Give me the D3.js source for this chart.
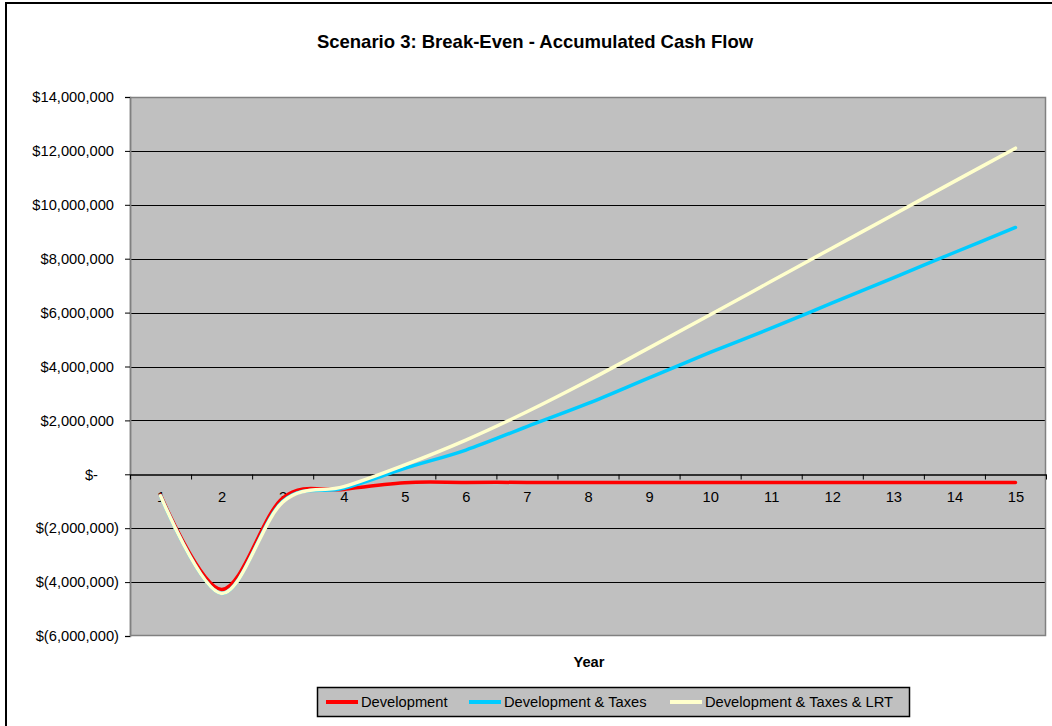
<!DOCTYPE html>
<html>
<head>
<meta charset="utf-8">
<script src="https://cdn.jsdelivr.net/npm/d3@7"></script>
<style>
  body { margin: 0; background: #fff; }
  text { font-family: "Liberation Sans", Arial, sans-serif; fill: #000; }
</style>
</head>
<body>
<script>
// Years on the category axis
const years = d3.range(1, 16);

// Accumulated cash flow, in dollars
const development = [-770000, -4270000, -880000, -560000, -310000, -300000, -300000, -300000,
  -300000, -300000, -300000, -300000, -300000, -300000, -300000];
const devTaxes = [-800000, -4420000, -1000000, -520000, 220000, 900000, 1770000, 2630000,
  3580000, 4520000, 5420000, 6360000, 7290000, 8230000, 9160000];
const devTaxesLrt = [-800000, -4420000, -1030000, -460000, 350000, 1270000, 2320000, 3470000,
  4690000, 5920000, 7160000, 8400000, 9630000, 10870000, 12100000];

const seriesNames = ["Development", "Development & Taxes", "Development & Taxes & LRT"];
const seriesColors = ["#FF0000", "#00CCFF", "#FFFFCC"];
const yTicks = d3.range(-6000000, 14000001, 2000000);

//Width and height
const w = 1052;
const h = 726;
const plot = { left: 130, right: 1046, top: 97, bottom: 636 };

const svg = d3.select("body").append("svg").attr("width", w).attr("height", h);

// chart frame
svg.append("rect")
  .attr("x", 6).attr("y", 3)
  .attr("width", 1100).attr("height", 800)
  .attr("fill", "#fff").attr("stroke", "#000").attr("stroke-width", 2);

const x = d3.scalePoint().domain(years).range([plot.left, plot.right]).padding(0.5);
const xEdge = d3.scaleLinear().domain([0.5, 15.5]).range([plot.left, plot.right]);
const y = d3.scaleLinear().domain([-6000000, 14000000]).range([plot.bottom, plot.top]);

// plot background
svg.append("rect")
  .attr("x", plot.left).attr("y", plot.top)
  .attr("width", plot.right - plot.left).attr("height", plot.bottom - plot.top)
  .attr("fill", "#C0C0C0");

// gridlines
svg.append("g")
  .selectAll("line")
  .data(yTicks.filter((d) => d !== 0 && d !== 14000000 && d !== -6000000))
  .enter()
  .append("line")
  .attr("x1", plot.left).attr("x2", plot.right)
  .attr("y1", (d) => Math.round(y(d)) + 0.5).attr("y2", (d) => Math.round(y(d)) + 0.5)
  .attr("stroke", "#000").attr("stroke-width", 1);

// plot border
svg.append("rect")
  .attr("x", plot.left + 0.5).attr("y", plot.top + 0.5)
  .attr("width", plot.right - plot.left - 1).attr("height", plot.bottom - plot.top - 1)
  .attr("fill", "none").attr("stroke", "#808080").attr("stroke-width", 1.5);

// y axis
function money(d) {
  if (d === 0) return "$-";
  const s = d3.format(",")(Math.abs(d));
  return d < 0 ? "$(" + s + ")" : "$" + s;
}
const yAxis = svg.append("g")
  .attr("transform", `translate(${plot.left},0)`)
  .call(d3.axisLeft(y).tickValues(yTicks).tickSize(5).tickFormat(money));
yAxis.select(".domain").attr("stroke", "#808080").attr("stroke-width", 1.5);
yAxis.selectAll(".tick line").attr("stroke", "#000");
yAxis.selectAll(".tick text")
  .attr("font-size", "14.7px")
  .attr("font-family", "Liberation Sans, Arial, sans-serif")
  .attr("x", (d) => (d < 0 ? -11 : d === 0 ? -32 : -16));

// zero line with category ticks
const zeroAxis = svg.append("g")
  .attr("transform", `translate(0,${Math.round(y(0)) + 0.5})`)
  .call(d3.axisBottom(xEdge).tickValues(d3.range(0.5, 16, 1)).tickSize(5).tickSizeOuter(0).tickFormat(""));
zeroAxis.select(".domain").attr("stroke", "#000").attr("stroke-width", 1.5);
zeroAxis.selectAll(".tick line").attr("stroke", "#000");

// category labels
const xLabels = svg.append("g")
  .attr("transform", `translate(0,${y(0)})`)
  .call(d3.axisBottom(x).tickSize(0));
xLabels.select(".domain").remove();
xLabels.selectAll(".tick text")
  .attr("font-size", "14.7px")
  .attr("font-family", "Liberation Sans, Arial, sans-serif")
  .attr("y", 28).attr("dy", 0);

// lines
const line = d3.line()
  .x((d, i) => x(years[i]))
  .y((d) => y(d))
  .curve(d3.curveCardinal.tension(0));

[development, devTaxes, devTaxesLrt].forEach((values, i) => {
  svg.append("path")
    .datum(values)
    .attr("d", line)
    .attr("fill", "none")
    .attr("stroke", seriesColors[i])
    .attr("stroke-width", 3.5)
    .attr("stroke-linejoin", "round")
    .attr("stroke-linecap", "round");
});

// title
svg.append("text")
  .attr("x", 535).attr("y", 48)
  .attr("text-anchor", "middle")
  .attr("font-size", "18.5px").attr("font-weight", "bold")
  .text("Scenario 3: Break-Even - Accumulated Cash Flow");

// axis title
svg.append("text")
  .attr("x", 589).attr("y", 667)
  .attr("text-anchor", "middle")
  .attr("font-size", "14.7px").attr("font-weight", "bold")
  .text("Year");

// legend
const legend = svg.append("g");
legend.append("rect")
  .attr("x", 317.5).attr("y", 687.5).attr("width", 592).attr("height", 29)
  .attr("fill", "#C0C0C0").attr("stroke", "#000").attr("stroke-width", 1.5);
const legendX = [326, 469, 670];
seriesNames.forEach((name, i) => {
  legend.append("line")
    .attr("x1", legendX[i]).attr("x2", legendX[i] + 32)
    .attr("y1", 702).attr("y2", 702)
    .attr("stroke", seriesColors[i]).attr("stroke-width", 4);
  legend.append("text")
    .attr("x", legendX[i] + 35).attr("y", 707)
    .attr("font-size", "14.7px")
    .text(name);
});
</script>
</body>
</html>
